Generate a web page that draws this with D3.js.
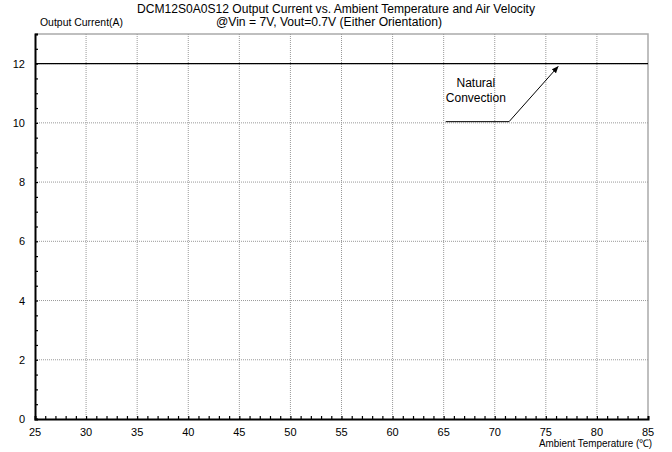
<!DOCTYPE html>
<html lang="en">
<head>
<meta charset="utf-8"/>
<script src="https://d3js.org/d3.v7.min.js"></script>
<style>
  body { margin: 0; background: #fff; }
  text { font-family: "Liberation Sans", Arial, sans-serif; fill: #000; }
</style>
</head>
<body>
<div id="chart"></div>
<script>
// derating curve: one series, natural convection
var temps = [25, 85];
var current = [12, 12];
var xTicks = [25, 30, 35, 40, 45, 50, 55, 60, 65, 70, 75, 80, 85];
var yTicks = [0, 2, 4, 6, 8, 10, 12];
var titleLines = ["DCM12S0A0S12 Output Current vs. Ambient Temperature and Air Velocity",
                  "@Vin = 7V, Vout=0.7V (Either Orientation)"];
var seriesLabel = ["Natural", "Convection"];

var W = 672, H = 452;
var margin = {top: 34, right: 24, bottom: 33, left: 35};
var width = W - margin.left - margin.right;
var height = H - margin.top - margin.bottom;

var svg = d3.select("#chart").append("svg")
    .attr("width", W).attr("height", H);

var g = svg.append("g")
    .attr("transform", "translate(" + margin.left + "," + margin.top + ")");

var x = d3.scaleLinear().domain([25, 85]).range([0, width]);
var y = d3.scaleLinear().domain([0, 13]).range([height, 0]);

// frame top/right
g.append("path")
    .attr("d", "M0,0H" + width + "V" + height)
    .attr("fill", "none").attr("stroke", "#aaa").attr("stroke-width", 1.5);

// grid
g.selectAll(".vg").data(xTicks.slice(1, -1)).enter().append("line")
    .attr("x1", d => x(d)).attr("x2", d => x(d))
    .attr("y1", 0).attr("y2", height)
    .attr("stroke", "#999").attr("stroke-dasharray", "1,1");
g.selectAll(".hg").data(yTicks.slice(1)).enter().append("line")
    .attr("x1", 0).attr("x2", width)
    .attr("y1", d => y(d)).attr("y2", d => y(d))
    .attr("stroke", "#999").attr("stroke-dasharray", "1,1");

// x axis: minor ticks inside every 1 deg
var xAxis = g.append("g").attr("transform", "translate(0," + height + ")");
xAxis.call(d3.axisBottom(x).tickValues(d3.range(25, 86, 1)).tickSize(-3).tickFormat(""));
xAxis.select(".domain").attr("stroke-width", 2);
xAxis.selectAll(".tick line").attr("stroke-width", 1.2);
xAxis.selectAll(".lbl").data(xTicks).enter().append("text")
    .attr("x", d => x(d)).attr("y", 17)
    .attr("text-anchor", "middle").style("font-size", "11px")
    .text(d => d);

// y axis: minor ticks every 0.5
var yAxis = g.append("g");
yAxis.call(d3.axisLeft(y).tickValues(d3.range(0, 13.01, 0.5)).tickSize(-3).tickFormat(""));
yAxis.select(".domain").attr("stroke-width", 2);
yAxis.selectAll(".tick line").attr("stroke-width", 1.2);
yAxis.selectAll(".lbl").data(yTicks).enter().append("text")
    .attr("x", -10).attr("y", d => y(d) + 4)
    .attr("text-anchor", "end").style("font-size", "11px")
    .text(d => d);

// series line
var line = d3.line().x((d, i) => x(temps[i])).y(d => y(d));
g.append("path").datum(current)
    .attr("d", line)
    .attr("fill", "none").attr("stroke", "#000").attr("stroke-width", 1.3);

// annotation
svg.append("defs").append("marker")
    .attr("id", "arr").attr("viewBox", "0 0 10 10")
    .attr("refX", 9).attr("refY", 5)
    .attr("markerWidth", 7).attr("markerHeight", 7)
    .attr("orient", "auto")
  .append("path").attr("d", "M0,1L10,5L0,9z").attr("fill", "#000");

g.append("polyline")
    .attr("points", [[x(65.2), y(10.04)], [x(71.4), y(10.04)], [x(76.2), y(11.9)]].join(" "))
    .attr("fill", "none").attr("stroke", "#000").attr("stroke-width", 1)
    .attr("marker-end", "url(#arr)");

g.selectAll(".ann").data(seriesLabel).enter().append("text")
    .attr("x", x(68.15)).attr("y", (d, i) => y(11.2) + i * 15)
    .attr("text-anchor", "middle").style("font-size", "12px")
    .text(d => d);

// titles
var titleBox = [[137, 398], [216, 226]];
svg.selectAll(".title").data(titleLines).enter().append("text")
    .attr("x", (d, i) => titleBox[i][0]).attr("y", (d, i) => 13 + i * 13)
    .attr("textLength", (d, i) => titleBox[i][1])
    .attr("lengthAdjust", "spacingAndGlyphs")
    .style("font-size", "12px")
    .text(d => d);

svg.append("text").attr("x", 40).attr("y", 26)
    .attr("textLength", 83).attr("lengthAdjust", "spacingAndGlyphs")
    .style("font-size", "10.5px")
    .text("Output Current(A)");

svg.append("text").attr("x", 539).attr("y", 447)
    .attr("textLength", 113).attr("lengthAdjust", "spacingAndGlyphs")
    .style("font-size", "10.5px")
    .text("Ambient Temperature (℃)");
</script>
</body>
</html>
